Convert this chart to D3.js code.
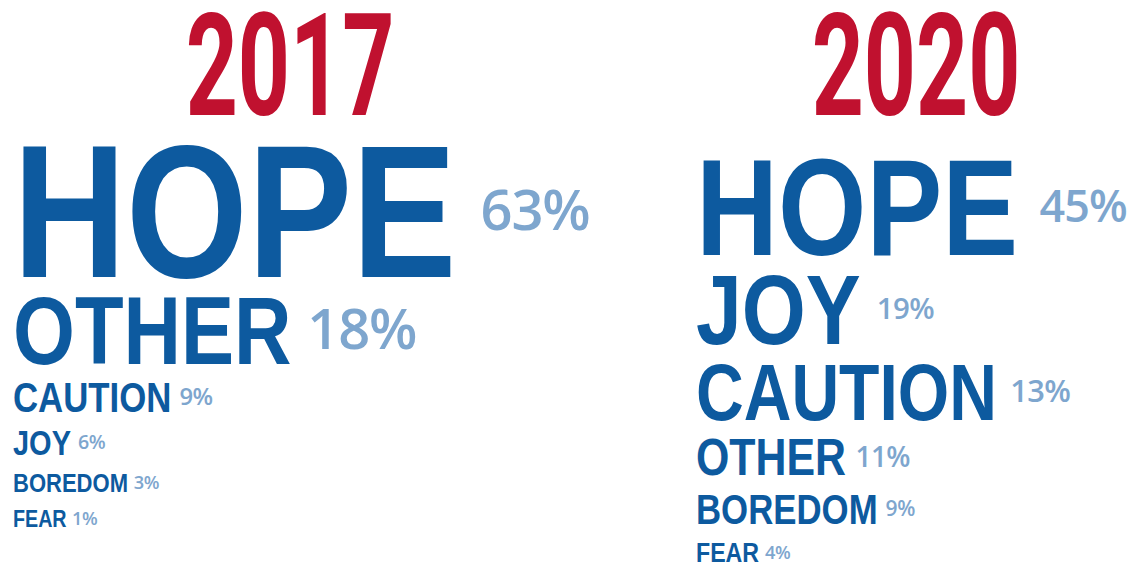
<!DOCTYPE html>
<html><head><meta charset="utf-8">
<script src="https://cdn.jsdelivr.net/npm/d3@7"></script>
<style>html,body{margin:0;padding:0;background:#fff;}svg{display:block;}</style>
</head><body>
<svg id="c" width="1134" height="563"></svg>
<script>
// ---- data ----
const years = ["2017", "2020"];
const categories2017 = ["HOPE", "OTHER", "CAUTION", "JOY", "BOREDOM", "FEAR"];
const values2017 = [63, 18, 9, 6, 3, 1];
const categories2020 = ["HOPE", "JOY", "CAUTION", "OTHER", "BOREDOM", "FEAR"];
const values2020 = [45, 19, 13, 11, 9, 4];

// ---- styling / layout ----
const RED = "#c0112f", BLUE = "#0d5a9f", LIGHT = "#7ea6ce";
const WORD_FONT = "'Liberation Sans', Arial, sans-serif";
const WORD_CAP = 0.716;     // cap-height ratio of word font
const LABEL_FONT = "'Open Sans', 'Noto Sans', sans-serif";
const LABEL_CAP = 0.714;
const TITLE_FONT = "Roboto, 'Liberation Sans', sans-serif";
const TITLE_CAP = 0.711;
const WORD_K = 0.83;        // horizontal condense for words
const TITLE_K = 0.64;       // horizontal condense for titles

// value -> word cap height (px)
const wordSize = d3.scaleLinear()
  .domain([1, 4, 6, 9, 11, 13, 19, 45, 63])
  .range([17, 20, 25, 30, 37, 57, 71, 98, 135]);
// value -> percent label cap height (px), per panel
const labelSize = {
  "2017": d3.scaleLinear().domain([1, 3, 6, 9, 18, 63]).range([13, 13, 14, 17, 40, 40]),
  "2020": d3.scaleLinear().domain([4, 9, 11, 13, 19, 45]).range([13, 15, 20, 22, 21, 32])
};

const panels = [
  {year: years[0], cats: categories2017, vals: values2017, left: 13, titleX: 290, top: 142, gap: 18},
  {year: years[1], cats: categories2020, vals: values2020, left: 696, titleX: 916, top: 157, gap: 18.4}
];

const svg = d3.select("#c");

panels.forEach(p => {
  const g = svg.append("g");
  const titleCap = 101;
  g.append("text")
    .attr("transform", `translate(${p.titleX},${14 + titleCap}) scale(${TITLE_K},1)`)
    .attr("text-anchor", "middle")
    .style("font-family", TITLE_FONT)
    .style("font-weight", 700)
    .style("font-size", (titleCap / TITLE_CAP) + "px")
    .attr("fill", RED)
    .text(p.year);

  let y = p.top;
  p.cats.forEach((c, i) => {
    const v = p.vals[i];
    const cap = wordSize(v);
    const base = y + cap;
    const t = g.append("text")
      .attr("transform", `translate(${p.left},${base}) scale(${WORD_K},1)`)
      .style("font-family", WORD_FONT)
      .style("font-weight", 700)
      .style("font-size", (cap / WORD_CAP) + "px")
      .attr("fill", BLUE)
      .text(c);
    const wlen = t.node().getComputedTextLength() * WORD_K;
    const lc = labelSize[p.year](v);
    const gapX = Math.min(0.2 * cap + 2, 24);
    g.append("text")
      .attr("x", p.left + wlen + gapX)
      .attr("y", y + cap / 2 + lc / 2)
      .style("font-family", LABEL_FONT)
      .style("font-weight", 600)
      .style("font-size", (lc / LABEL_CAP) + "px")
      .style("letter-spacing", "-0.02em")
      .attr("fill", LIGHT)
      .text(v + "%");
    y = base + p.gap;
  });
});
</script>
</body></html>
